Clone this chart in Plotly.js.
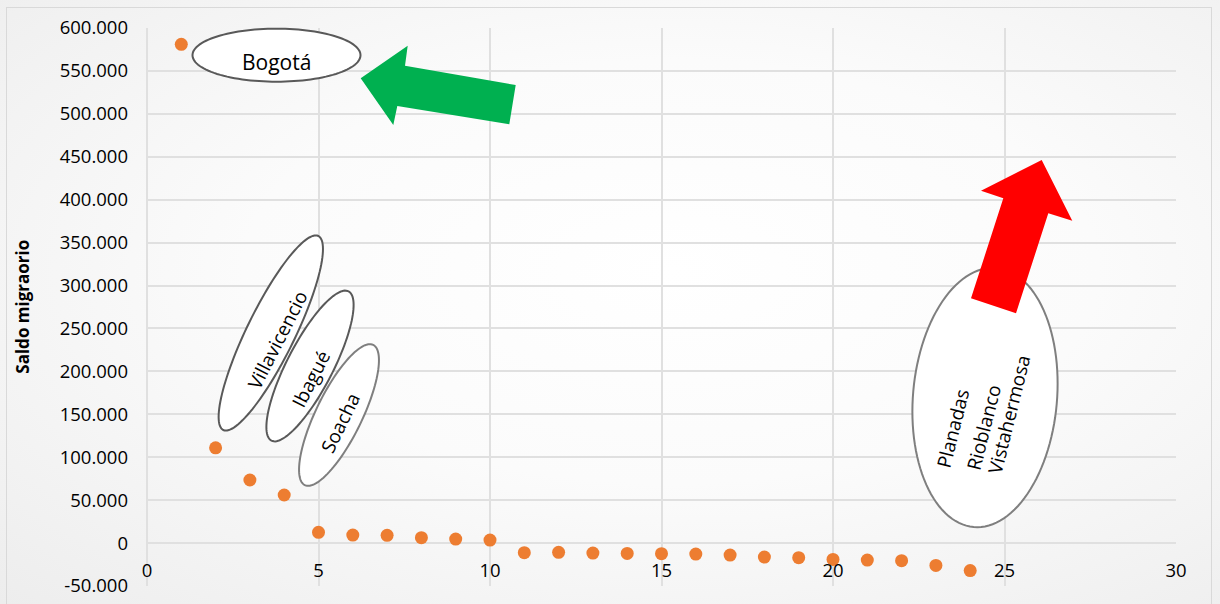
<!DOCTYPE html>
<html>
<head>
<meta charset="utf-8">
<script src="https://cdn.plot.ly/plotly-3.0.1.min.js"></script>
<style>
  html, body { margin: 0; padding: 0; width: 1220px; height: 604px; overflow: hidden; }
  #bg { position: absolute; left: 0; top: 0; width: 1220px; height: 604px;
        background: radial-gradient(ellipse at 55% 45%, #ffffff 0%, #fbfbfb 45%, #ededed 100%); }
  #frame { position: absolute; left: 6px; top: 7px; width: 1206px; height: 600px;
        border: 1px solid #d9d9d9; box-sizing: border-box; }
  #chart { position: absolute; left: 0; top: 0; width: 1220px; height: 604px; }
</style>
</head>
<body>
<div id="bg"></div>
<div id="frame"></div>
<div id="chart"></div>
<script>
// ---- data ----
const rank = [1,2,3,4,5,6,7,8,9,10,11,12,13,14,15,16,17,18,19,20,21,22,23,24];
const saldoMigratorio = [581000,111000,73500,56000,12500,9300,9000,6300,4700,3500,
  -11200,-10800,-11600,-12000,-12400,-12800,-14000,-16300,-17000,-19000,-19800,-20500,-26000,-32000];

const xTickVals = [0,5,10,15,20,25,30];
const xTickText = ['0','5','10','15','20','25','30'];
const yTickVals = [-50000,0,50000,100000,150000,200000,250000,300000,350000,400000,450000,500000,550000,600000];
const yTickText = ['-50.000','0','50.000','100.000','150.000','200.000','250.000','300.000','350.000','400.000','450.000','500.000','550.000','600.000'];

const yTitle = 'Saldo migraorio';
const labelBogota = 'Bogotá';
const labelsLeft = ['Villavicencio','Ibagué','Soacha'];
const labelsRight = ['Planadas','Rioblanco','Vistahermosa'];

// ---- layout helpers (page pixels -> paper) ----
const M = {l:147, r:44, t:28, b:18};
const W = 1220 - M.l - M.r, H = 604 - M.t - M.b;
function px(x){ return (x - M.l) / W; }
function py(y){ return (M.t + H - y) / H; }
function polyPath(pts){
  return pts.map((p,i)=> (i? 'L':'M') + px(p[0]).toFixed(5) + ',' + py(p[1]).toFixed(5)).join(' ') + ' Z';
}
function ellipsePath(cx, cy, a, b, phiDeg){
  const phi = phiDeg*Math.PI/180, pts = [];
  for (let i=0;i<120;i++){
    const t = i/120*2*Math.PI;
    const lx = a*Math.cos(t), ly = b*Math.sin(t);
    pts.push([cx + lx*Math.cos(phi) - ly*Math.sin(phi), cy - (lx*Math.sin(phi) + ly*Math.cos(phi))]);
  }
  return polyPath(pts);
}

const FONT = '"Open Sans", "DejaVu Sans", sans-serif';

const shapes = [
  {type:'path', xref:'paper', yref:'paper', path: ellipsePath(276.5,55.2,84,26.5,0),
   fillcolor:'#ffffff', line:{color:'#595959', width:2}, layer:'above'},
  {type:'path', xref:'paper', yref:'paper', path: ellipsePath(270.8,333,108,24,63.9),
   fillcolor:'#ffffff', line:{color:'#595959', width:2}, layer:'above'},
  {type:'path', xref:'paper', yref:'paper', path: ellipsePath(310,366,84,23,62.7),
   fillcolor:'#ffffff', line:{color:'#595959', width:2}, layer:'above'},
  {type:'path', xref:'paper', yref:'paper', path: ellipsePath(339,415,78,23,64),
   fillcolor:'#ffffff', line:{color:'#7f7f7f', width:2}, layer:'above'},
  {type:'path', xref:'paper', yref:'paper', path: ellipsePath(985,397.5,130,72,85),
   fillcolor:'#ffffff', line:{color:'#7f7f7f', width:2}, layer:'above'},
  {type:'path', xref:'paper', yref:'paper',
   path: polyPath([[360.7,78.3],[407.7,45.7],[405,65.7],[515.7,85],[509.3,124.3],[397.3,106],[393.3,125]]),
   fillcolor:'#00B050', line:{width:0}, layer:'above'},
  {type:'path', xref:'paper', yref:'paper',
   path: polyPath([[1041.7,160],[1072.3,220.7],[1048.3,213.3],[1016,313.3],[971,298.3],[1003.3,198.3],[981,190.7]]),
   fillcolor:'#FF0000', line:{width:0}, layer:'above'}
];

function ann(text, x, y, angle, size, extra){
  return Object.assign({text:text, xref:'paper', yref:'paper', x:px(x), y:py(y),
    xanchor:'center', yanchor:'middle', showarrow:false, textangle:angle,
    font:{family:FONT, size:size, color:'#000000'}}, extra||{});
}

const annotations = [
  ann('<b>'+yTitle+'</b>', 23, 306.7, -90, 17),
  ann(labelBogota, 276.5, 62, 0, 21),
  ann(labelsLeft[0], 277.5, 340, -63, 19),
  ann(labelsLeft[1], 311, 379, -63, 19),
  ann(labelsLeft[2], 340, 422.5, -64, 19),
  ann(labelsRight[0], 953.3, 428.3, -76, 19),
  ann(labelsRight[1], 983.3, 427.5, -76, 19),
  ann(labelsRight[2], 1009, 415, -76, 19)
];

const trace = {
  x: rank, y: saldoMigratorio, type:'scatter', mode:'markers',
  marker:{color:'#ED7D31', size:13, line:{width:0}},
  hoverinfo:'x+y', showlegend:false
};

const yMin = -50000, yMax = 600000;
const layout = {
  width:1220, height:604,
  margin:{l:M.l, r:M.r, t:M.t, b:M.b, pad:0},
  paper_bgcolor:'rgba(0,0,0,0)', plot_bgcolor:'rgba(0,0,0,0)',
  font:{family:FONT, size:18, color:'#000000'},
  showlegend:false,
  xaxis:{
    range:[0,30], tickmode:'array', tickvals:xTickVals, ticktext:xTickText,
    showgrid:true, gridcolor:'#e0e0e0', gridwidth:2,
    zeroline:true, zerolinecolor:'#e0e0e0', zerolinewidth:2,
    showline:false, ticks:'', anchor:'free', position:(0 - yMin)/(yMax - yMin),
    ticklabelstandoff:14, tickfont:{family:FONT, size:18.5, color:'#000000'}, fixedrange:true
  },
  yaxis:{
    range:[yMin,yMax], tickmode:'array', tickvals:yTickVals, ticktext:yTickText,
    showgrid:true, gridcolor:'#e0e0e0', gridwidth:2,
    zeroline:true, zerolinecolor:'#e0e0e0', zerolinewidth:2,
    showline:false, ticks:'', ticklabelstandoff:18,
    tickfont:{family:FONT, size:18.5, color:'#000000'}, fixedrange:true
  },
  shapes: shapes,
  annotations: annotations
};

Plotly.newPlot('chart', [trace], layout, {displayModeBar:false, staticPlot:true});
</script>
</body>
</html>
